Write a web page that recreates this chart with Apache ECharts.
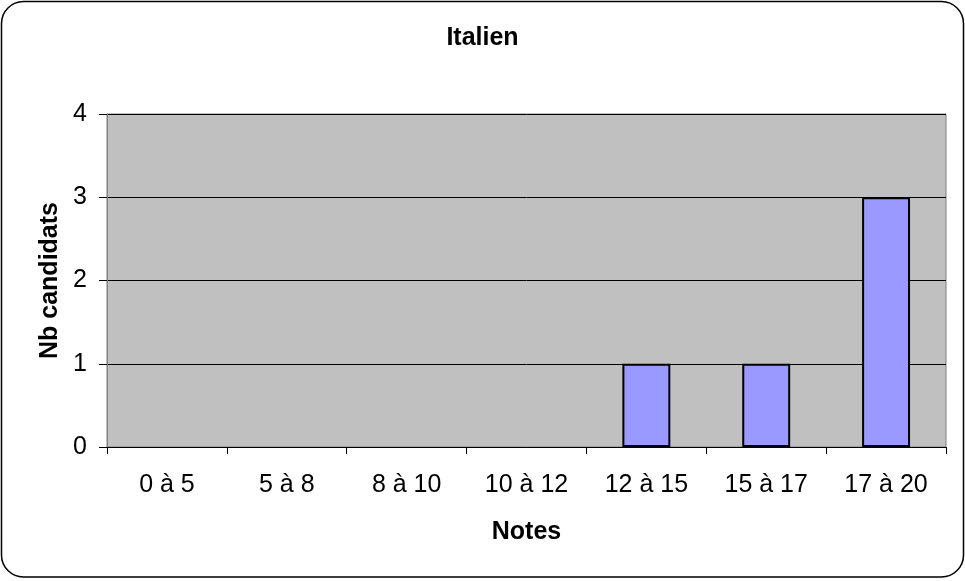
<!DOCTYPE html>
<html>
<head>
<meta charset="utf-8">
<script src="https://cdn.jsdelivr.net/npm/echarts@6/dist/echarts.min.js"></script>
<style>html,body{margin:0;padding:0;background:#fff}#c{width:965px;height:581px}</style>
</head>
<body>
<div id="c"></div>
<script>
const categories = ["0 à 5", "5 à 8", "8 à 10", "10 à 12", "12 à 15", "15 à 17", "17 à 20"];
const values = [0, 0, 0, 0, 1, 1, 3];
const yTicks = [0, 1, 2, 3, 4];

const chart = echarts.init(document.getElementById('c'));
const font = 'Liberation Sans, Arial, sans-serif';
chart.setOption({
  animation: false,
  backgroundColor: '#fff',
  title: {
    text: 'Italien', left: 'center', top: 21,
    textStyle: { fontFamily: font, fontSize: 25, fontWeight: 'bold', color: '#000' }
  },
  graphic: [{
    type: 'rect', z: 100, silent: true,
    shape: { x: 1.5, y: 1.5, width: 962, height: 575.5, r: 22 },
    style: { fill: 'none', stroke: '#000', lineWidth: 1.5 }
  }],
  grid: {
    left: 107, right: 19, top: 114, bottom: 134,
    show: true, backgroundColor: '#C0C0C0', borderColor: '#808080', borderWidth: 1
  },
  xAxis: {
    type: 'category', data: categories,
    name: 'Notes', nameLocation: 'middle', nameGap: 73,
    nameTextStyle: { fontFamily: font, fontSize: 25, fontWeight: 'bold', color: '#000' },
    axisLine: { show: true, lineStyle: { color: '#000', width: 1 } },
    axisTick: { show: true, interval: 0, length: 7, lineStyle: { color: '#000' } },
    axisLabel: { interval: 0, margin: 26, fontFamily: font, fontSize: 25, color: '#000' }
  },
  yAxis: {
    type: 'value', min: yTicks[0], max: yTicks[yTicks.length - 1], interval: 1,
    name: 'Nb candidats', nameLocation: 'middle', nameGap: 41, nameRotate: 90,
    nameTextStyle: { fontFamily: font, fontSize: 25, fontWeight: 'bold', color: '#000' },
    axisLine: { show: true, lineStyle: { color: '#808080', width: 1 } },
    axisTick: { show: true, length: 8, lineStyle: { color: '#000' } },
    axisLabel: { margin: 20, fontFamily: font, fontSize: 25, color: '#000' },
    splitLine: { show: true, lineStyle: { color: '#000', width: 1 } }
  },
  series: [{
    type: 'bar', data: values.map(v => (v === 0 ? '-' : v)), barWidth: '40%',
    itemStyle: { color: '#9999FF', borderColor: '#000', borderWidth: 2 }
  }]
});
</script>
</body>
</html>
